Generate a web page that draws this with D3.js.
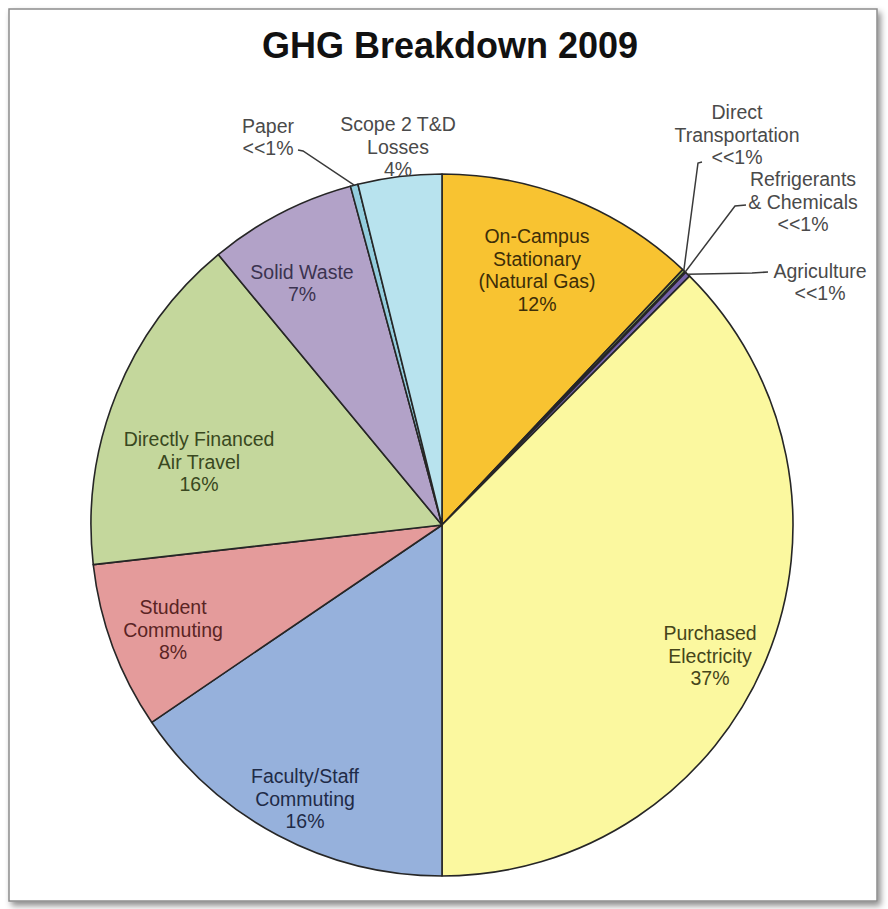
<!DOCTYPE html>
<html>
<head>
<meta charset="utf-8">
<script src="https://cdn.jsdelivr.net/npm/d3@7/dist/d3.min.js"></script>
<style>
  html, body { margin: 0; padding: 0; background: #ffffff; }
  svg { display: block; }
  text { font-family: "Liberation Sans", Arial, sans-serif; }
</style>
</head>
<body>
<svg id="chart" width="888" height="909"></svg>
<script>
// GHG emission categories, clockwise from 12 o'clock
const categories = [
  "On-Campus Stationary (Natural Gas)",
  "Direct Transportation",
  "Refrigerants & Chemicals",
  "Agriculture",
  "Purchased Electricity",
  "Faculty/Staff Commuting",
  "Student Commuting",
  "Directly Financed Air Travel",
  "Solid Waste",
  "Paper",
  "Scope 2 T&D Losses"
];
// share of total emissions (%)
const shares = [12.03, 0.13, 0.05, 0.25, 37.54, 15.5, 7.7, 15.8, 6.8, 0.35, 3.85];
// label text shown for each slice
const labelLines = [
  ["On-Campus", "Stationary", "(Natural Gas)", "12%"],
  ["Direct", "Transportation", "<<1%"],
  ["Refrigerants", "& Chemicals", "<<1%"],
  ["Agriculture", "<<1%"],
  ["Purchased", "Electricity", "37%"],
  ["Faculty/Staff", "Commuting", "16%"],
  ["Student", "Commuting", "8%"],
  ["Directly Financed", "Air Travel", "16%"],
  ["Solid Waste", "7%"],
  ["Paper", "<<1%"],
  ["Scope 2 T&D", "Losses", "4%"]
];
const title = "GHG Breakdown 2009";

// styling
const fills = ["#F8C331", "#9BBB59", "#4F81BD", "#7462A8", "#FBF89F", "#96B1DC",
               "#E49B9B", "#C4D79C", "#B2A2C8", "#93CDDD", "#B8E3EE"];
const textColors = ["#3d2e08", "#4a4a4a", "#4a4a4a", "#4a4a4a", "#45451a", "#1f2b47",
                    "#5a2424", "#394820", "#3b3350", "#4a4a4a", "#4a4a4a"];
// label anchor (middle of text block) relative to pie centre;
// leader lines run from the slice edge through an elbow to an end point
const labelLayout = [
  { x: 95,  y: -255 },
  { x: 295, y: -390, leader: { elbow: [256, -362], end: [260, -363] } },
  { x: 361, y: -323, leader: { elbow: [293, -319], end: [304, -320] } },
  { x: 378, y: -243, leader: { elbow: [310, -252], end: [326, -253] } },
  { x: 268, y: 131 },
  { x: -137, y: 274 },
  { x: -269, y: 105 },
  { x: -243, y: -63 },
  { x: -140, y: -242 },
  { x: -174, y: -388, leader: { elbow: [-139, -374], end: [-144, -375] } },
  { x: -44,  y: -378 }
];

const W = 888, H = 909;
const cx = 442, cy = 525, R = 351;
const fontSize = 19.5, lineH = 22.5;

const svg = d3.select("#chart");

// frame with soft shadow
const defs = svg.append("defs");
const f = defs.append("filter").attr("id", "shadow")
  .attr("x", "-5%").attr("y", "-5%").attr("width", "110%").attr("height", "110%");
f.append("feDropShadow").attr("dx", 3).attr("dy", 4).attr("stdDeviation", 3)
  .attr("flood-color", "#000").attr("flood-opacity", 0.45);

svg.append("rect")
  .attr("x", 9).attr("y", 9).attr("width", W - 20).attr("height", H - 17)
  .attr("fill", "#ffffff").attr("stroke", "#8c8c8c").attr("stroke-width", 1.5)
  .attr("filter", "url(#shadow)");

// title
svg.append("text")
  .attr("x", cx + 8).attr("y", 58)
  .attr("text-anchor", "middle")
  .attr("font-size", 36).attr("font-weight", "bold").attr("fill", "#111")
  .text(title);

const g = svg.append("g").attr("transform", `translate(${cx},${cy})`);

const pie = d3.pie().sort(null).value(d => d)(shares);
const arc = d3.arc().innerRadius(0).outerRadius(R);
const edgeArc = d3.arc().innerRadius(R).outerRadius(R);

g.selectAll("path.slice")
  .data(pie)
  .join("path")
  .attr("class", "slice")
  .attr("d", arc)
  .attr("fill", (d, i) => fills[i])
  .attr("stroke", "#262626")
  .attr("stroke-width", 1.6)
  .attr("stroke-linejoin", "round");

// leader lines for the small outside slices
pie.forEach((d, i) => {
  const L = labelLayout[i].leader;
  if (!L) return;
  const p = edgeArc.centroid(d);
  g.append("path")
    .attr("d", d3.line()([p, L.elbow, L.end]))
    .attr("fill", "none")
    .attr("stroke", "#3a3a3a")
    .attr("stroke-width", 1.5);
});

// slice labels
pie.forEach((d, i) => {
  const L = labelLayout[i];
  const lines = labelLines[i];
  const t = g.append("text")
    .attr("text-anchor", "middle")
    .attr("font-size", fontSize)
    .attr("fill", textColors[i]);
  const top = L.y - (lines.length - 1) * lineH / 2 + fontSize * 0.35;
  lines.forEach((s, k) => {
    t.append("tspan").attr("x", L.x).attr("y", top + k * lineH).text(s);
  });
});
</script>
</body>
</html>
